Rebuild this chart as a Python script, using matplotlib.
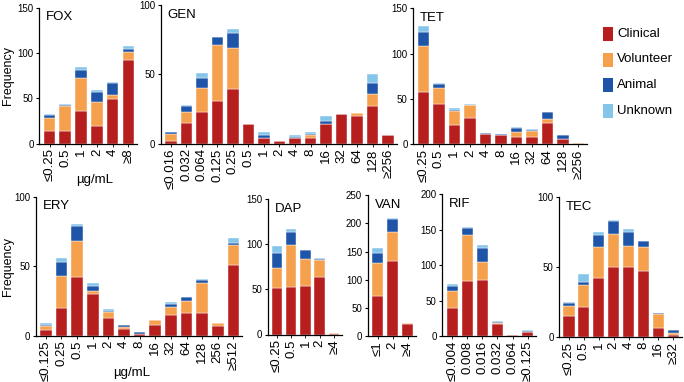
import numpy as np
import matplotlib
matplotlib.use("Agg")
import matplotlib.pyplot as plt
from matplotlib.patches import Rectangle

plt.rcParams["font.family"] = ["Liberation Sans", "DejaVu Sans"]

SOURCES = ["Clinical", "Volunteer", "Animal", "Unknown"]
COLORS = ["#B71F1F", "#F5A04C", "#1F55A8", "#86C5EA"]

# ---------------------------------------------------------------------------
# Data (isolate counts per MIC bin, by source)
# ---------------------------------------------------------------------------
fox_mic = ["≤0.25", "0.5", "1", "2", "4", "≥8"]
fox_clinical = [14, 14, 36, 19, 49, 92]
fox_volunteer = [14, 27, 36, 27, 5, 9]
fox_animal = [3, 2, 9, 11, 13, 3]
fox_unknown = [1, 1, 3, 2, 1, 4]

gen_mic = ["≤0.016", "0.032", "0.064", "0.125", "0.25", "0.5", "1", "2",
           "4", "8", "16", "32", "64", "128", "≥256"]
gen_clinical = [2, 15, 23, 31, 39, 14, 4, 2, 4, 4, 14, 21, 20, 27, 6]
gen_volunteer = [5, 8, 17, 40, 30, 0, 0, 0, 0, 2, 0, 0, 2, 9, 0]
gen_animal = [1, 4, 7, 6, 11, 0, 2, 0, 1, 1, 2, 0, 0, 8, 0]
gen_unknown = [0, 1, 4, 0, 3, 0, 2, 0, 1, 1, 4, 0, 0, 6, 0]

tet_mic = ["≤0.25", "0.5", "1", "2", "4", "8", "16", "32", "64", "128", "≥256"]
tet_clinical = [58, 44, 21, 29, 11, 10, 8, 8, 23, 6, 0]
tet_volunteer = [50, 18, 16, 14, 0, 0, 6, 7, 5, 0, 1]
tet_animal = [16, 5, 1, 0, 1, 1, 4, 1, 8, 4, 0]
tet_unknown = [6, 1, 2, 1, 0, 0, 1, 1, 0, 0, 0]

ery_mic = ["≤0.125", "0.25", "0.5", "1", "2", "4", "8", "16", "32", "64",
           "128", "256", "≥512"]
ery_clinical = [4, 20, 42, 30, 13, 5, 1, 8, 15, 16, 16, 7, 51]
ery_volunteer = [3, 23, 26, 2, 4, 1, 0, 3, 6, 9, 22, 2, 14]
ery_animal = [1, 10, 11, 4, 1, 2, 2, 0, 2, 3, 2, 0, 2]
ery_unknown = [1, 3, 1, 2, 1, 0, 0, 0, 1, 0, 1, 0, 3]

dap_mic = ["≤0.25", "0.5", "1", "2", "≥4"]
dap_clinical = [51, 53, 54, 64, 1]
dap_volunteer = [23, 46, 30, 18, 1]
dap_animal = [16, 14, 9, 2, 0]
dap_unknown = [8, 4, 1, 1, 0]

van_mic = ["≤1", "2", "≥4"]
van_clinical = [71, 133, 21]
van_volunteer = [58, 52, 2]
van_animal = [19, 23, 0]
van_unknown = [9, 2, 0]

rif_mic = ["≤0.004", "0.008", "0.016", "0.032", "0.064", "≥0.125"]
rif_clinical = [40, 78, 79, 17, 1, 5]
rif_volunteer = [23, 64, 25, 1, 0, 0]
rif_animal = [7, 10, 20, 2, 0, 2]
rif_unknown = [3, 2, 4, 1, 0, 1]

tec_mic = ["≤0.25", "0.5", "1", "2", "4", "8", "16", "≥32"]
tec_clinical = [15, 21, 42, 50, 50, 47, 6, 1]
tec_volunteer = [7, 16, 22, 24, 15, 17, 10, 2]
tec_animal = [2, 2, 9, 9, 10, 5, 1, 2]
tec_unknown = [1, 6, 2, 1, 2, 0, 0, 0]

W, H = 684, 382
fig = plt.figure(figsize=(W / 100, H / 100), dpi=100)


def px_rect(left, top, right, bottom):
    """pixel box (from top-left) -> figure fraction rect"""
    return [left / W, 1 - bottom / H, (right - left) / W, (bottom - top) / H]


def panel(rect, name, mic, series, ymax, ystep, unit_xy=None):
    ax = fig.add_axes(rect)
    x = np.arange(len(mic))
    bottom = np.zeros(len(mic))
    for vals, color in zip(series, COLORS):
        vals = np.array(vals, dtype=float)
        ax.bar(x, vals, bottom=bottom, width=0.74, color=color,
               edgecolor="white", linewidth=0.3)
        bottom += vals
    ax.set_xlim(-0.65, len(mic) - 0.45)
    ax.set_ylim(0, ymax)
    ax.set_yticks(np.arange(0, ymax + 1, ystep))
    ax.set_xticks(x)
    ax.set_xticklabels(mic, rotation=90, fontsize=9.5)
    ax.tick_params(axis="y", labelsize=7, length=2.5, width=0.8, pad=1.5)
    ax.tick_params(axis="x", length=2, width=0.6, pad=1.5)
    for s in ["top", "right"]:
        ax.spines[s].set_visible(False)
    for s in ["left", "bottom"]:
        ax.spines[s].set_linewidth(0.9)
    ax.annotate(name, xy=(0, 1), xycoords="axes fraction", xytext=(5, -7),
                textcoords="offset points", va="center", ha="left", fontsize=9.5)
    if unit_xy is not None:
        # first column: y label and unit label at fixed spots, as in the figure
        ax.set_ylabel("Frequency", fontsize=9, va="center")
        ax.yaxis.set_label_coords(8 / W, rect[1] + 0.5 * rect[3],
                                  transform=fig.transFigure)
        ax.set_xlabel("µg/mL", fontsize=9.5, va="center")
        ax.xaxis.set_label_coords(unit_xy[0] / W, 1 - unit_xy[1] / H,
                                  transform=fig.transFigure)
    return ax


panel(px_rect(39.3, 7.5, 137, 143.5), "FOX", fox_mic,
      [fox_clinical, fox_volunteer, fox_animal, fox_unknown], 150, 50,
      unit_xy=(95, 180))
panel(px_rect(160.7, 5, 396.7, 143.5), "GEN", gen_mic,
      [gen_clinical, gen_volunteer, gen_animal, gen_unknown], 100, 50)
panel(px_rect(413.3, 8.3, 587, 144.3), "TET", tet_mic,
      [tet_clinical, tet_volunteer, tet_animal, tet_unknown], 150, 50)

panel(px_rect(35.7, 196.7, 242, 335.7), "ERY", ery_mic,
      [ery_clinical, ery_volunteer, ery_animal, ery_unknown], 100, 50,
      unit_xy=(132, 373))
panel(px_rect(267.5, 199, 342, 334.5), "DAP", dap_mic,
      [dap_clinical, dap_volunteer, dap_animal, dap_unknown], 150, 50)
panel(px_rect(367.7, 195, 416, 336.3), "VAN", van_mic,
      [van_clinical, van_volunteer, van_animal, van_unknown], 250, 50)
panel(px_rect(442.3, 194.3, 536, 336), "RIF", rif_mic,
      [rif_clinical, rif_volunteer, rif_animal, rif_unknown], 200, 50)
panel(px_rect(559.3, 197.3, 681.5, 336.7), "TEC", tec_mic,
      [tec_clinical, tec_volunteer, tec_animal, tec_unknown], 100, 50)

# legend: tall colour swatches with labels, upper right
for i, (label, color) in enumerate(zip(SOURCES, COLORS)):
    yc = 34 + i * 25.5
    fig.patches.append(Rectangle((603 / W, 1 - (yc + 7) / H), 9.5 / W, 14 / H,
                                 transform=fig.transFigure, facecolor=color,
                                 edgecolor="none"))
    fig.text(617 / W, 1 - yc / H, label, fontsize=9.5, va="center", ha="left")

fig.savefig("out.png", dpi=100)
